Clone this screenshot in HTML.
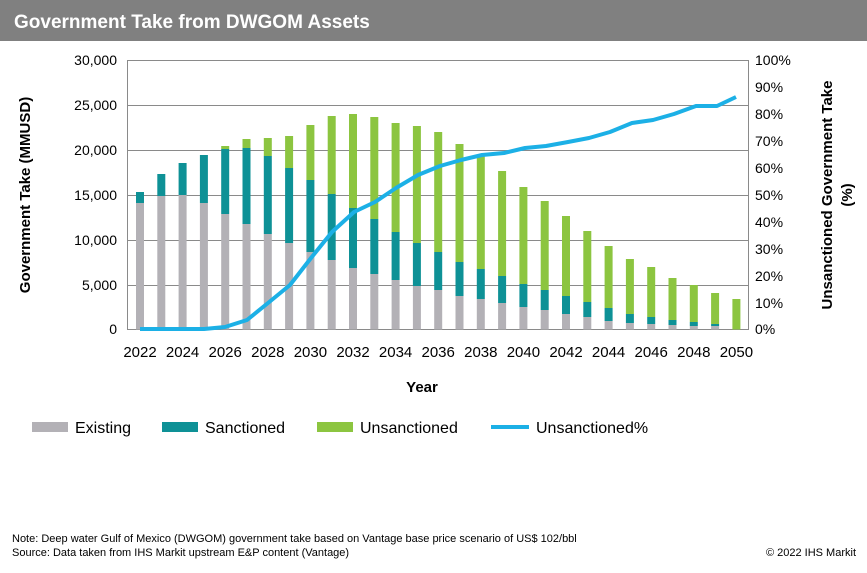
<!DOCTYPE html>
<html><head><meta charset="utf-8"><style>
body{margin:0;background:#fff;}
svg{display:block;font-family:"Liberation Sans",Arial,sans-serif;}
</style></head><body>
<svg width="867" height="573" viewBox="0 0 867 573">
<rect x="0" y="0" width="867" height="573" fill="#fff"/>
<rect x="0" y="0" width="867" height="41" fill="#808080"/>
<text x="14" y="28" fill="#fff" font-size="19" font-weight="bold">Government Take from DWGOM Assets</text>
<g stroke="#8a8a8a" stroke-width="1">
<line x1="127" y1="60.5" x2="748" y2="60.5"/>
<line x1="127" y1="105.5" x2="748" y2="105.5"/>
<line x1="127" y1="150.5" x2="748" y2="150.5"/>
<line x1="127" y1="195.5" x2="748" y2="195.5"/>
<line x1="127" y1="240.5" x2="748" y2="240.5"/>
<line x1="127" y1="285.5" x2="748" y2="285.5"/>
<line x1="127" y1="329.5" x2="748" y2="329.5"/>
<line x1="127.5" y1="60" x2="127.5" y2="330"/>
<line x1="748.5" y1="60" x2="748.5" y2="330"/>
</g>
<g fill="#b3b1b6">
<rect x="136" y="203" width="8" height="126.5"/>
<rect x="157.3" y="196" width="8" height="133.5"/>
<rect x="178.6" y="195" width="8" height="134.5"/>
<rect x="199.9" y="203" width="8" height="126.5"/>
<rect x="221.2" y="214" width="8" height="115.5"/>
<rect x="242.5" y="224" width="8" height="105.5"/>
<rect x="263.8" y="234" width="8" height="95.5"/>
<rect x="285.1" y="243" width="8" height="86.5"/>
<rect x="306.4" y="252" width="8" height="77.5"/>
<rect x="327.7" y="260" width="8" height="69.5"/>
<rect x="349" y="268" width="8" height="61.5"/>
<rect x="370.3" y="274" width="8" height="55.5"/>
<rect x="391.6" y="280" width="8" height="49.5"/>
<rect x="412.9" y="286" width="8" height="43.5"/>
<rect x="434.2" y="290" width="8" height="39.5"/>
<rect x="455.5" y="296" width="8" height="33.5"/>
<rect x="476.8" y="299" width="8" height="30.5"/>
<rect x="498.1" y="303" width="8" height="26.5"/>
<rect x="519.4" y="307" width="8" height="22.5"/>
<rect x="540.7" y="310" width="8" height="19.5"/>
<rect x="562" y="314" width="8" height="15.5"/>
<rect x="583.3" y="317" width="8" height="12.5"/>
<rect x="604.6" y="321" width="8" height="8.5"/>
<rect x="625.9" y="323" width="8" height="6.5"/>
<rect x="647.2" y="324" width="8" height="5.5"/>
<rect x="668.5" y="325" width="8" height="4.5"/>
<rect x="689.8" y="326" width="8" height="3.5"/>
<rect x="711.1" y="326" width="8" height="3.5"/>
</g>
<g fill="#0e9196">
<rect x="136" y="192" width="8" height="11"/>
<rect x="157.3" y="174" width="8" height="22"/>
<rect x="178.6" y="163" width="8" height="32"/>
<rect x="199.9" y="155" width="8" height="48"/>
<rect x="221.2" y="149" width="8" height="65"/>
<rect x="242.5" y="148" width="8" height="76"/>
<rect x="263.8" y="156" width="8" height="78"/>
<rect x="285.1" y="168" width="8" height="75"/>
<rect x="306.4" y="180" width="8" height="72"/>
<rect x="327.7" y="194" width="8" height="66"/>
<rect x="349" y="208" width="8" height="60"/>
<rect x="370.3" y="219" width="8" height="55"/>
<rect x="391.6" y="232" width="8" height="48"/>
<rect x="412.9" y="243" width="8" height="43"/>
<rect x="434.2" y="252" width="8" height="38"/>
<rect x="455.5" y="262" width="8" height="34"/>
<rect x="476.8" y="269" width="8" height="30"/>
<rect x="498.1" y="276" width="8" height="27"/>
<rect x="519.4" y="284" width="8" height="23"/>
<rect x="540.7" y="290" width="8" height="20"/>
<rect x="562" y="296" width="8" height="18"/>
<rect x="583.3" y="302" width="8" height="15"/>
<rect x="604.6" y="308" width="8" height="13"/>
<rect x="625.9" y="314" width="8" height="9"/>
<rect x="647.2" y="317" width="8" height="7"/>
<rect x="668.5" y="320" width="8" height="5"/>
<rect x="689.8" y="322" width="8" height="4"/>
<rect x="711.1" y="324" width="8" height="2"/>
</g>
<g fill="#8cc540">
<rect x="221.2" y="146" width="8" height="3"/>
<rect x="242.5" y="139" width="8" height="9"/>
<rect x="263.8" y="138" width="8" height="18"/>
<rect x="285.1" y="136" width="8" height="32"/>
<rect x="306.4" y="125" width="8" height="55"/>
<rect x="327.7" y="116" width="8" height="78"/>
<rect x="349" y="114" width="8" height="94"/>
<rect x="370.3" y="117" width="8" height="102"/>
<rect x="391.6" y="123" width="8" height="109"/>
<rect x="412.9" y="126" width="8" height="117"/>
<rect x="434.2" y="132" width="8" height="120"/>
<rect x="455.5" y="144" width="8" height="118"/>
<rect x="476.8" y="155" width="8" height="114"/>
<rect x="498.1" y="171" width="8" height="105"/>
<rect x="519.4" y="187" width="8" height="97"/>
<rect x="540.7" y="201" width="8" height="89"/>
<rect x="562" y="216" width="8" height="80"/>
<rect x="583.3" y="231" width="8" height="71"/>
<rect x="604.6" y="246" width="8" height="62"/>
<rect x="625.9" y="259" width="8" height="55"/>
<rect x="647.2" y="267" width="8" height="50"/>
<rect x="668.5" y="278" width="8" height="42"/>
<rect x="689.8" y="285" width="8" height="37"/>
<rect x="711.1" y="293" width="8" height="31"/>
<rect x="732.4" y="299" width="8" height="30.5"/>
</g>
<polyline fill="none" stroke="#1cb0e6" stroke-width="4" stroke-linejoin="round" points="140,329 161,329 183,329 204,329 225,327 247,320 268,303 290,285 311,258 332,232 354,212 375,202 396,188 418,175 440,166 461,160 482,155 504,153 525,148 546,146 568,142 589,138 610,132 632,123 653,120 674,114 696,106 717,106 736,97"/>
<g font-size="14" fill="#000" text-anchor="end">
<text x="117" y="65">30,000</text><text x="117" y="110">25,000</text><text x="117" y="155">20,000</text><text x="117" y="200">15,000</text><text x="117" y="245">10,000</text><text x="117" y="290">5,000</text><text x="117" y="334">0</text>
</g>
<g font-size="14" fill="#000">
<text x="755" y="65">100%</text><text x="755" y="92">90%</text><text x="755" y="119">80%</text><text x="755" y="146">70%</text><text x="755" y="173">60%</text><text x="755" y="200">50%</text><text x="755" y="227">40%</text><text x="755" y="254">30%</text><text x="755" y="281">20%</text><text x="755" y="308">10%</text><text x="755" y="334">0%</text>
</g>
<g font-size="15" fill="#000" text-anchor="middle">
<text x="140" y="357">2022</text><text x="182.6" y="357">2024</text><text x="225.2" y="357">2026</text><text x="267.8" y="357">2028</text><text x="310.4" y="357">2030</text><text x="353" y="357">2032</text><text x="395.6" y="357">2034</text><text x="438.2" y="357">2036</text><text x="480.8" y="357">2038</text><text x="523.4" y="357">2040</text><text x="566" y="357">2042</text><text x="608.6" y="357">2044</text><text x="651.2" y="357">2046</text><text x="693.8" y="357">2048</text><text x="736.4" y="357">2050</text>
</g>
<text x="422" y="392" font-size="15" font-weight="bold" text-anchor="middle">Year</text>
<text transform="translate(30,195) rotate(-90)" font-size="15" font-weight="bold" text-anchor="middle">Government  Take (MMUSD)</text>
<text transform="translate(832,195) rotate(-90)" font-size="15" font-weight="bold" text-anchor="middle">Unsanctioned  Government  Take</text>
<text transform="translate(852,195) rotate(-90)" font-size="15" font-weight="bold" text-anchor="middle">(%)</text>
<g font-size="16" fill="#000">
<rect x="32" y="422" width="36" height="10" fill="#b3b1b6"/><text x="75" y="433">Existing</text>
<rect x="162" y="422" width="36" height="10" fill="#0e9196"/><text x="205" y="433">Sanctioned</text>
<rect x="317" y="422" width="36" height="10" fill="#8cc540"/><text x="360" y="433">Unsanctioned</text>
<line x1="491" y1="427" x2="529" y2="427" stroke="#1cb0e6" stroke-width="4"/><text x="536" y="433">Unsanctioned%</text>
</g>
<text x="12" y="542" font-size="11">Note: Deep water Gulf of Mexico (DWGOM) government take based on Vantage base price scenario of US$ 102/bbl</text>
<text x="12" y="556" font-size="11">Source: Data taken from IHS Markit upstream E&amp;P content (Vantage)</text>
<text x="856" y="556" font-size="11" text-anchor="end">© 2022 IHS Markit</text>
</svg>
</body></html>
